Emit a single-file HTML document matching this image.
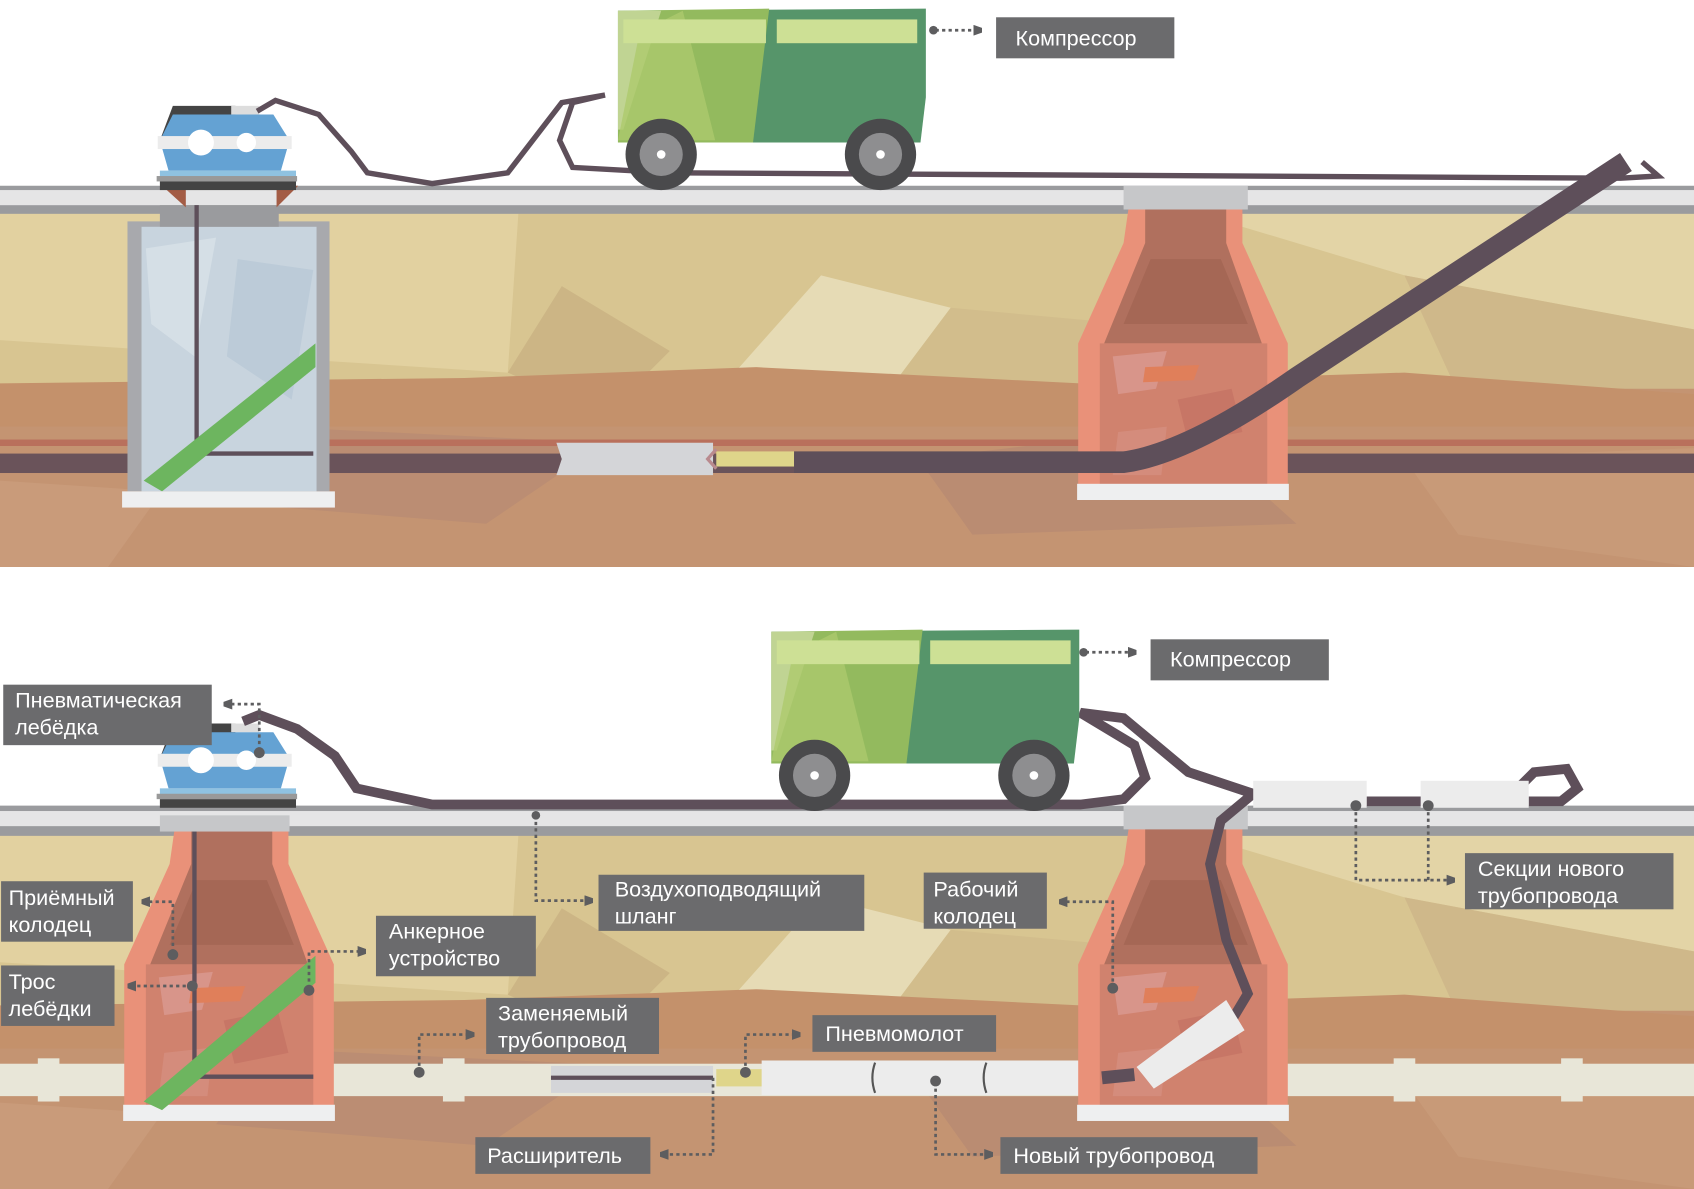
<!DOCTYPE html>
<html><head><meta charset="utf-8"><style>
html,body{margin:0;padding:0;background:#fff}
svg{display:block}
text{font-family:"Liberation Sans",sans-serif;fill:#fff;font-size:20px}
</style></head><body>
<svg width="1694" height="1189" viewBox="0 0 1568 1101" preserveAspectRatio="none" xmlns="http://www.w3.org/2000/svg">
<defs>
<g id="soil">
 <rect x="0" y="0" width="1568" height="330" fill="#d8c591"/>
 <polygon points="0,0 480,0 470,150 0,120" fill="#e2d1a0"/>
 <polygon points="520,70 620,130 560,190 470,150" fill="#ccb585"/>
 <polygon points="760,60 880,90 820,170 680,150" fill="#e6dbb5"/>
 <polygon points="880,90 1100,110 1000,175 820,170" fill="#d2bd8c"/>
 <polygon points="1100,0 1568,0 1568,110 1300,60" fill="#e3d4a6"/>
 <polygon points="1300,60 1568,110 1568,180 1350,170" fill="#cfb88a"/>
 <polygon points="0,165 1568,165 1568,330 0,330" fill="#c49472"/>
 <polygon points="0,160 430,155 700,145 1000,160 1300,150 1568,170 1568,200 0,200" fill="#c4916b"/>
 <polygon points="250,200 560,215 450,290 200,270" fill="#bb8d73"/>
 <polygon points="850,230 1100,200 1200,290 900,300" fill="#ba8c72"/>
 <polygon points="1300,230 1568,220 1568,330 1350,300" fill="#c89a78"/>
 <polygon points="0,250 150,260 100,330 0,330" fill="#c99b7a"/>
</g>
<g id="well">
 <polygon points="1045,190 1150,190 1150,225 1192,318 1192,450 998,450 998,318 1040,225" fill="#e99179"/>
 <polygon points="1060,190 1135,190 1135,225 1168,318 1022,318 1060,225" fill="#b0705e"/>
 <polygon points="1065,240 1130,240 1155,300 1040,300" fill="#a56755"/>
 <rect x="1018" y="318" width="155" height="132" fill="#d0826e"/>
 <polygon points="1030,330 1080,325 1070,360 1035,365" fill="#d8958a"/>
 <polygon points="1090,370 1140,360 1150,400 1100,410" fill="#c77666"/>
 <polygon points="1035,400 1080,395 1075,440 1030,440" fill="#d48c7c"/>
 <polygon points="1060,340 1110,338 1105,352 1058,354" fill="#e07f5a"/>
 <rect x="997" y="448" width="196" height="15" fill="#eeeff0"/>
</g>
<g id="truck">
 <polygon points="0,0 285,-2 285,80 280,122 0,122" fill="#56956a"/>
 <polygon points="0,0 140,-2 125,122 0,122" fill="#93ba5e"/>
 <polygon points="0,0 40,0 5,110 0,110" fill="#c0d493"/>
 <polygon points="20,20 60,0 90,120 0,120" fill="#acc96d" opacity="0.8"/>
 <rect x="5" y="8" width="132" height="22" fill="#cde095"/>
 <rect x="147" y="8" width="130" height="22" fill="#cde095"/>
 <circle cx="40" cy="133" r="33" fill="#4a4a4c"/><circle cx="40" cy="133" r="20" fill="#8e8e90"/><circle cx="40" cy="133" r="4" fill="#fff"/>
 <circle cx="243" cy="133" r="33" fill="#4a4a4c"/><circle cx="243" cy="133" r="20" fill="#8e8e90"/><circle cx="243" cy="133" r="4" fill="#fff"/>
</g>
<g id="winch">
 <polygon points="12,0 70,0 70,8 0,32" fill="#444"/>
 <rect x="66" y="0" width="26" height="8" fill="#ddd"/>
 <polygon points="12,8 105,8 120,32 112,60 8,60 0,32" fill="#64a2d3"/>
 <rect x="-2" y="28" width="124" height="12" fill="#ececec"/>
 <circle cx="38" cy="34" r="12" fill="#fff"/><circle cx="80" cy="34" r="9" fill="#fff"/>
 <rect x="0" y="60" width="126" height="6" fill="#8fc2e1"/>
 <rect x="-3" y="65" width="130" height="5" fill="#999"/>
 <rect x="0" y="70" width="126" height="8" fill="#444"/>
</g>
<marker id="ar" markerWidth="8" markerHeight="10" refX="1" refY="5" orient="auto" markerUnits="userSpaceOnUse"><polygon points="0,0 14,5 0,10" fill="#5d5d5f"/></marker>
</defs>

<!-- TOP PANEL -->
<use href="#soil" transform="translate(0,195)"/>
<rect x="0" y="172" width="1568" height="26" fill="#9a9b9e"/>
<rect x="0" y="176" width="1568" height="14" fill="#e5e5e6"/>
<rect x="0" y="407" width="1568" height="6" fill="#b9705c"/>
<rect x="0" y="420" width="1568" height="18" fill="#6a535a"/>
<polygon points="515,410 660,410 660,440 515,440 520,425" fill="#d4d5d8"/>
<rect x="663" y="418" width="72" height="14" fill="#dfd58a"/>
<path d="M663,416 L655,425 L663,434" fill="none" stroke="#b98a8e" stroke-width="3"/>
<rect x="118" y="205" width="187" height="250" fill="#a8a9ad"/>
<rect x="131" y="210" width="162" height="245" fill="#c8d4de"/>
<polygon points="135,230 200,220 180,330 140,300" fill="#d5dfe6"/>
<polygon points="220,240 290,250 270,370 210,330" fill="#bccbd8"/>
<rect x="148" y="190" width="110" height="20" fill="#9a9b9e"/>
<polygon points="150,172 172,172 172,192" fill="#a35c45"/>
<polygon points="256,172 276,172 256,192" fill="#a35c45"/>
<line x1="182" y1="190" x2="182" y2="420" stroke="#5e4f5a" stroke-width="4"/>
<line x1="182" y1="420" x2="290" y2="420" stroke="#5e4f5a" stroke-width="4"/>
<polygon points="133,445 150,455 292,340 292,318" fill="#6db55f"/>
<rect x="113" y="455" width="197" height="15" fill="#eeeff0"/>
<use href="#winch" transform="translate(148,98)"/>
<use href="#well"/>
<rect x="1040" y="172" width="115" height="22" fill="#c6c7c9"/>
<path d="M238,103 L255,93 L295,106 L325,140 L340,160 L400,170 L470,160 L520,95 L560,88 L530,95 L518,130 L530,155 L620,160 L1500,165 L1535,163 L1520,150" fill="none" stroke="#5e4f5a" stroke-width="5"/>
<path d="M735,428 L1040,428 Q1100,420 1200,350 L1505,150" fill="none" stroke="#5e4f5a" stroke-width="20"/>
<use href="#truck" transform="translate(572,10)"/>
<path d="M866,28 L902,28" stroke="#5d5d5f" stroke-width="2.5" stroke-dasharray="3,3" marker-end="url(#ar)"/>
<circle cx="864" cy="28" r="4" fill="#5d5d5f"/>
<rect x="922" y="16" width="165" height="38" fill="#6b6b6d"/>
<text x="940" y="42">Компрессор</text>

<!-- BOTTOM PANEL -->
<use href="#soil" transform="translate(0,771)"/>
<rect x="0" y="746" width="1568" height="28" fill="#9a9b9e"/>
<rect x="0" y="751" width="1568" height="14" fill="#e5e5e6"/>
<rect x="0" y="985" width="1568" height="30" fill="#e8e6d8"/>
<rect x="35" y="980" width="20" height="40" fill="#e8e6d8"/>
<rect x="410" y="980" width="20" height="40" fill="#e8e6d8"/>
<rect x="1290" y="980" width="20" height="40" fill="#e8e6d8"/>
<rect x="1445" y="980" width="20" height="40" fill="#e8e6d8"/>
<rect x="510" y="987" width="150" height="25" fill="#d4d5d8"/>
<line x1="510" y1="998" x2="660" y2="998" stroke="#5e4f5a" stroke-width="4"/>
<rect x="663" y="990" width="45" height="16" fill="#dfd58a"/>
<rect x="705" y="982" width="315" height="32" fill="#ececec"/>
<path d="M810,984 Q805,998 810,1012 M913,984 Q908,998 913,1012" stroke="#555" stroke-width="2" fill="none"/>
<use href="#well" transform="translate(-883,575)"/>
<line x1="180" y1="765" x2="180" y2="997" stroke="#5e4f5a" stroke-width="4"/>
<line x1="180" y1="997" x2="290" y2="997" stroke="#5e4f5a" stroke-width="4"/>
<polygon points="133,1020 150,1028 292,910 292,885" fill="#6db55f"/>
<rect x="148" y="755" width="120" height="15" fill="#c6c7c9"/>
<use href="#winch" transform="translate(148,670)"/>
<use href="#well" transform="translate(0,575)"/>
<rect x="1040" y="746" width="115" height="22" fill="#c6c7c9"/>
<path d="M225,668 L240,662 L275,675 L310,700 L330,730 L400,745 L1000,745 L1040,740 L1060,720 L1050,690 L1000,660 L1040,665 L1070,690 L1100,715 L1160,735 L1130,760 L1120,800 L1135,870 L1155,920 L1140,945" fill="none" stroke="#5e4f5a" stroke-width="9"/>
<path d="M1020,998 L1050,995" stroke="#5e4f5a" stroke-width="12"/>
<polygon points="1052,988 1135,926 1152,954 1068,1008" fill="#ececec"/>
<path d="M1265,742 L1320,742 M1415,742 L1445,742 L1460,730 L1450,712 L1420,715 L1405,730" fill="none" stroke="#5e4f5a" stroke-width="9"/>
<rect x="1160" y="723" width="105" height="25" fill="#ececec"/>
<rect x="1315" y="723" width="100" height="25" fill="#ececec"/>
<use href="#truck" transform="translate(714,585)"/>

<g fill="none" stroke="#5d5d5f" stroke-width="2.5" stroke-dasharray="3,3">
 <path d="M1005,604 L1045,604" marker-end="url(#ar)"/>
 <path d="M240,695 L240,652 L214,652" marker-end="url(#ar)"/>
 <path d="M160,882 L160,835 L138,835" marker-end="url(#ar)"/>
 <path d="M178,913 L125,913" marker-end="url(#ar)"/>
 <path d="M286,915 L286,881 L332,881" marker-end="url(#ar)"/>
 <path d="M496,755 L496,834 L542,834" marker-end="url(#ar)"/>
 <path d="M388,993 L388,958 L432,958" marker-end="url(#ar)"/>
 <path d="M690,993 L690,958 L734,958" marker-end="url(#ar)"/>
 <path d="M660,998 L660,1069 L618,1069" marker-end="url(#ar)"/>
 <path d="M866,1002 L866,1069 L912,1069" marker-end="url(#ar)"/>
 <path d="M1030,915 L1030,835 L987,835" marker-end="url(#ar)"/>
 <path d="M1255,746 L1255,815 L1340,815" marker-end="url(#ar)"/>
 <path d="M1322,746 L1322,815"/>
</g>
<g fill="#5d5d5f">
 <circle cx="1003" cy="604" r="4"/><circle cx="240" cy="697" r="5"/><circle cx="160" cy="884" r="5"/>
 <circle cx="178" cy="913" r="5"/><circle cx="286" cy="917" r="5"/><circle cx="496" cy="755" r="4"/>
 <circle cx="388" cy="993" r="5"/><circle cx="690" cy="993" r="5"/><circle cx="866" cy="1001" r="5"/>
 <circle cx="1030" cy="915" r="5"/><circle cx="1255" cy="746" r="5"/><circle cx="1322" cy="746" r="5"/>
</g>
<g fill="#6b6b6d">
 <rect x="1065" y="592" width="165" height="38"/>
 <rect x="3" y="634" width="193" height="56"/>
 <rect x="1" y="816" width="122" height="56"/>
 <rect x="1" y="894" width="105" height="56"/>
 <rect x="348" y="848" width="148" height="56"/>
 <rect x="554" y="810" width="246" height="52"/>
 <rect x="855" y="808" width="114" height="52"/>
 <rect x="1356" y="790" width="193" height="52"/>
 <rect x="450" y="924" width="160" height="52"/>
 <rect x="752" y="940" width="170" height="34"/>
 <rect x="440" y="1053" width="162" height="34"/>
 <rect x="926" y="1053" width="238" height="34"/>
</g>
<text x="1083" y="617">Компрессор</text>
<text x="14" y="655">Пневматическая</text><text x="14" y="680">лебёдка</text>
<text x="8" y="838">Приёмный</text><text x="8" y="863">колодец</text>
<text x="8" y="916">Трос</text><text x="8" y="941">лебёдки</text>
<text x="360" y="869">Анкерное</text><text x="360" y="894">устройство</text>
<text x="569" y="830">Воздухоподводящий</text><text x="569" y="855">шланг</text>
<text x="864" y="830">Рабочий</text><text x="864" y="855">колодец</text>
<text x="1368" y="811">Секции нового</text><text x="1368" y="836">трубопровода</text>
<text x="461" y="945">Заменяемый</text><text x="461" y="970">трубопровод</text>
<text x="764" y="964">Пневмомолот</text>
<text x="451" y="1077">Расширитель</text>
<text x="938" y="1077">Новый трубопровод</text>
</svg>
</body></html>
